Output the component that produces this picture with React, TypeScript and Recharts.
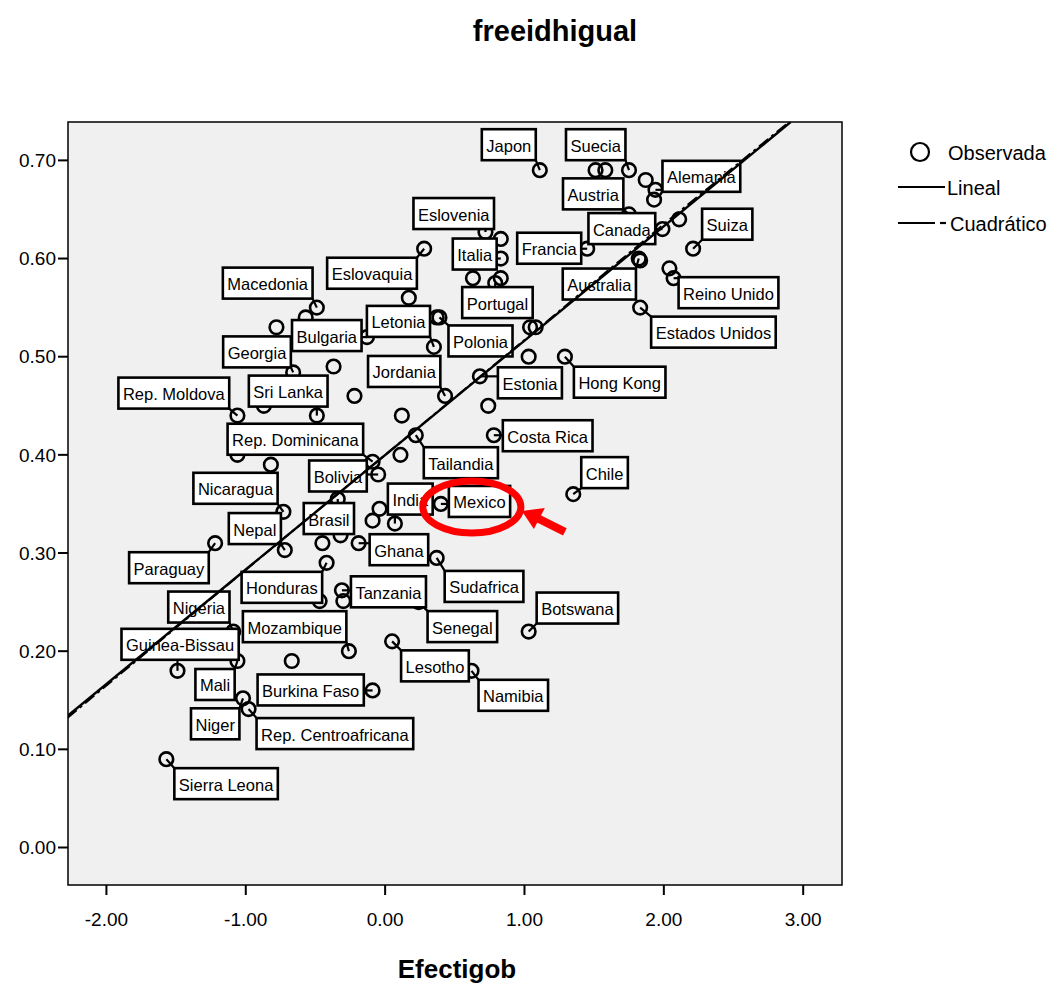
import React from "react";
import { ScatterChart, Scatter, XAxis, YAxis, ReferenceArea, Legend } from "recharts";

if (typeof document !== "undefined") document.body.style.margin = "0";

const FONT = '"Liberation Sans", Arial, sans-serif';

// country labels ("" = unlabeled point)
const paises = [
  "Japon", "", "", "Suecia", "", "Alemania", "", "Austria", "Canada", "",
  "Suiza", "Francia", "Australia", "", "", "Reino Unido", "Estados Unidos", "Eslovenia", "", "Italia",
  "", "", "Portugal", "", "", "", "Hong Kong", "Estonia", "", "Costa Rica",
  "Chile", "Mexico", "Sudafrica", "Senegal", "Botswana", "Lesotho", "Namibia", "Eslovaquia", "", "Polonia",
  "", "Letonia", "Bulgaria", "Macedonia", "", "", "Georgia", "", "", "Jordania",
  "Rep. Moldova", "", "Sri Lanka", "", "Tailandia", "", "", "", "Rep. Dominicana", "Bolivia",
  "Brasil", "Nicaragua", "", "", "India", "", "", "Ghana", "Paraguay", "Nepal",
  "Honduras", "Tanzania", "", "", "Nigeria", "Mali", "Mozambique", "", "Guinea-Bissau", "Burkina Faso",
  "Niger", "Rep. Centroafricana", "Sierra Leona",
];

const efectigob = [
  1.11, 1.51, 1.58, 1.75, 1.87, 1.94, 1.93, 1.75, 1.99, 2.11,
  2.21, 1.45, 1.82, 1.83, 2.04, 2.07, 1.83, 0.72, 0.83, 0.83,
  0.83, 0.63, 0.79, 1.04, 1.08, 1.03, 1.29, 0.68, 0.74, 0.78,
  1.35, 0.4, 0.37, 0.24, 1.03, 0.05, 0.62, 0.28, 0.17, 0.39,
  0.37, 0.35, -0.13, -0.49, -0.57, -0.78, -0.66, -0.37, -0.22, 0.43,
  -1.06, -0.87, -0.49, 0.12, 0.22, 0.11, -1.06, -0.82, -0.09, -0.05,
  -0.34, -0.73, -0.04, -0.09, 0.07, -0.45, -0.32, -0.19, -1.22, -0.72,
  -0.42, -0.31, -0.3, -0.47, -1.09, -1.06, -0.26, -0.67, -1.49, -0.09,
  -1.02, -0.98, -1.57,
];

const freeidhigual = [
  0.69, 0.69, 0.69, 0.69, 0.68, 0.67, 0.66, 0.645, 0.63, 0.64,
  0.61, 0.61, 0.6, 0.598, 0.59, 0.58, 0.55, 0.627, 0.62, 0.6,
  0.58, 0.58, 0.575, 0.53, 0.53, 0.5, 0.5, 0.48, 0.45, 0.42,
  0.36, 0.35, 0.295, 0.25, 0.22, 0.21, 0.18, 0.61, 0.56, 0.54,
  0.54, 0.51, 0.52, 0.55, 0.54, 0.53, 0.484, 0.49, 0.46, 0.46,
  0.44, 0.45, 0.44, 0.44, 0.42, 0.4, 0.4, 0.39, 0.393, 0.38,
  0.355, 0.342, 0.345, 0.333, 0.33, 0.31, 0.318, 0.31, 0.31, 0.303,
  0.29, 0.262, 0.251, 0.251, 0.22, 0.19, 0.2, 0.19, 0.18, 0.16,
  0.152, 0.141, 0.09,
];

// fitted lines
const linealX = [-2.28, 2.91];
const linealY = [0.134, 0.739];
const cuadX = [-2.28, -1, 0, 1, 2, 2.95];
const cuadY = [0.132, 0.283, 0.4, 0.517, 0.635, 0.745];

const xTicks = [-2, -1, 0, 1, 2, 3];
const yTicks = [0, 0.1, 0.2, 0.3, 0.4, 0.5, 0.6, 0.7];
const xDomain = [-2.2757, 3.2785];
const yDomain = [-0.0382, 0.7391];

// label box top-left offset from the point (px)
const labelBoxes: Record<string, [number, number]> = {
  "Japon": [-58, -41], "Suecia": [-63, -41], "Alemania": [7, -29], "Austria": [-66, -36],
  "Canada": [-74, -16], "Suiza": [9, -40], "Francia": [-70, -16], "Australia": [-76, 10],
  "Reino Unido": [5, -1], "Estados Unidos": [11, 9], "Eslovenia": [-72, -34], "Italia": [-48, -20],
  "Portugal": [-33, 4], "Polonia": [9, 8], "Eslovaquia": [-97, 9], "Macedonia": [-94, -40],
  "Letonia": [-67, -41], "Bulgaria": [-75, -17], "Georgia": [-70, -36], "Jordania": [-77, -40],
  "Estonia": [18, -9], "Hong Kong": [9, 10], "Rep. Moldova": [-119, -38], "Sri Lanka": [-68, -40],
  "Rep. Dominicana": [-145, -38], "Tailandia": [8, 12], "Costa Rica": [9, -15], "Chile": [8, -37],
  "Nicaragua": [-90, -39], "Bolivia": [-69, -14], "India": [-7, -40], "Mexico": [8, -18],
  "Nepal": [-56, -37], "Brasil": [-34, 4], "Ghana": [11, -9], "Paraguay": [-86, 9],
  "Honduras": [-85, 9], "Tanzania": [9, -14], "Sudafrica": [8, 13], "Senegal": [9, 9],
  "Botswana": [8, -39], "Nigeria": [-65, -40], "Mozambique": [-106, -40], "Guinea-Bissau": [-56, -42],
  "Lesotho": [9, 9], "Namibia": [7, 9], "Mali": [-42, 8], "Burkina Faso": [-115, -16],
  "Niger": [-52, 10], "Rep. Centroafricana": [8, 9], "Sierra Leona": [8, 9],
};

const puntos = paises.map((name, i) => ({ name, x: efectigob[i], y: freeidhigual[i] }));
const etiquetados = puntos.filter((p) => p.name !== "");
const mexico = puntos.filter((p) => p.name === "Mexico");
const linealData = linealX.map((x, i) => ({ x, y: linealY[i] }));
const cuadData = cuadX.map((x, i) => ({ x, y: cuadY[i] }));

const LABEL_SIZE = 16.5;
const ctx = typeof document !== "undefined" ? document.createElement("canvas").getContext("2d") : null;
const textWidth = (s: string) => {
  if (!ctx) return s.length * 8.5;
  ctx.font = `${LABEL_SIZE}px ${FONT}`;
  return ctx.measureText(s).width;
};

const Circulo = (props: any) => (
  <circle cx={props.cx} cy={props.cy} r={6.8} fill="none" stroke="#000" strokeWidth={2.6} />
);

const Etiqueta = (props: any) => {
  const { cx, cy, payload } = props;
  const off = labelBoxes[payload.name];
  if (!off) return <g />;
  const w = textWidth(payload.name) + 9;
  const h = 31;
  const x0 = cx + off[0];
  const y0 = cy + off[1];
  const nx = Math.max(x0, Math.min(cx, x0 + w));
  const ny = Math.max(y0, Math.min(cy, y0 + h));
  return (
    <g>
      <line x1={cx} y1={cy} x2={nx} y2={ny} stroke="#000" strokeWidth={2.2} />
      <rect x={x0} y={y0} width={w} height={h} fill="#fff" stroke="#000" strokeWidth={2.6} />
      <text x={x0 + w / 2} y={y0 + h / 2 + 1} textAnchor="middle" dominantBaseline="central"
        fontSize={LABEL_SIZE} fontFamily={FONT} fill="#000">
        {payload.name}
      </text>
    </g>
  );
};

// red highlight drawn around Mexico
const Resalte = (props: any) => {
  const { cx, cy } = props;
  return (
    <g>
      <ellipse cx={cx + 31} cy={cy + 3} rx={49} ry={26} fill="none" stroke="#f00" strokeWidth={7} />
      <line x1={cx + 124} y1={cy + 28} x2={cx + 92} y2={cy + 12} stroke="#f00" strokeWidth={8} />
      <polygon points={`${cx + 81},${cy + 7} ${cx + 93},${cy + 25} ${cx + 104},${cy + 4}`} fill="#f00" />
    </g>
  );
};

const Nada = () => <g />;

const Leyenda = () => (
  <svg width={152} height={100} style={{ display: "block" }}>
    <circle cx={25} cy={14} r={9} fill="none" stroke="#000" strokeWidth={2.2} />
    <text x={53} y={15} dominantBaseline="central" fontSize={20} fontFamily={FONT}>Observada</text>
    <line x1={3} x2={50} y1={49} y2={49} stroke="#000" strokeWidth={2.2} />
    <text x={52} y={50} dominantBaseline="central" fontSize={20} fontFamily={FONT}>Lineal</text>
    <line x1={3} x2={40} y1={85} y2={85} stroke="#000" strokeWidth={2.2} />
    <line x1={45} x2={51} y1={85} y2={85} stroke="#000" strokeWidth={2.2} />
    <text x={55} y={86} dominantBaseline="central" fontSize={20} fontFamily={FONT}>Cuadrático</text>
  </svg>
);

export default function App() {
  const tick = { fill: "#000", fontSize: 19, fontFamily: FONT };
  return (
    <div style={{ position: "relative", width: 1047, height: 988, background: "#fff", fontFamily: FONT }}>
      <div style={{ position: "absolute", left: 0, top: 0 }}>
        <ScatterChart width={1047} height={988} margin={{ top: 122, right: 205, bottom: 53, left: 8 }}>
          <ReferenceArea x1={xDomain[0]} x2={xDomain[1]} y1={yDomain[0]} y2={yDomain[1]}
            fill="#f0f0f0" fillOpacity={1} stroke="#000" strokeWidth={1.5} />
          <XAxis type="number" dataKey="x" domain={xDomain} ticks={xTicks} allowDataOverflow
            height={50} axisLine={false} tickSize={10} tickMargin={18}
            tickLine={{ stroke: "#000", strokeWidth: 2 }} tick={tick}
            tickFormatter={(v: number) => v.toFixed(2)} />
          <YAxis type="number" dataKey="y" domain={yDomain} ticks={yTicks} allowDataOverflow
            width={60} axisLine={false} tickSize={10} tickMargin={2}
            tickLine={{ stroke: "#000", strokeWidth: 2 }} tick={tick}
            tickFormatter={(v: number) => v.toFixed(2)} />
          <Legend layout="vertical" align="center" verticalAlign="middle" content={Leyenda}
            wrapperStyle={{ position: "absolute", left: 895, top: 138, width: 152, height: 100 }} />
          <Scatter name="Observada" data={puntos} shape={Circulo} isAnimationActive={false} />
          <Scatter name="etiquetas" data={etiquetados} shape={Etiqueta} isAnimationActive={false} legendType="none" />
          <Scatter name="Cuadrático" data={cuadData} shape={Nada} isAnimationActive={false}
            line={{ stroke: "#000", strokeWidth: 2, strokeDasharray: "12 4 3 4" }} />
          <Scatter name="Lineal" data={linealData} shape={Nada} isAnimationActive={false}
            line={{ stroke: "#000", strokeWidth: 2.4 }} />
          <Scatter name="resalte" data={mexico} shape={Resalte} isAnimationActive={false} legendType="none" />
        </ScatterChart>
      </div>
      <div style={{ position: "absolute", left: 0, width: 1110, top: 17, textAlign: "center",
        fontSize: 29, fontWeight: "bold", lineHeight: "29px" }}>freeidhigual</div>
      <div style={{ position: "absolute", left: 0, width: 914, top: 956, textAlign: "center",
        fontSize: 26, fontWeight: "bold", lineHeight: "26px" }}>Efectigob</div>
    </div>
  );
}
